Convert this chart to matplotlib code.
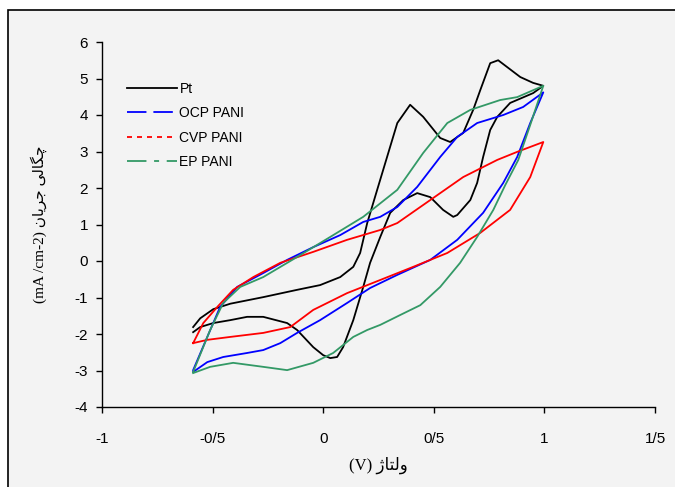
import matplotlib.pyplot as plt
from matplotlib.lines import Line2D
from matplotlib.patches import Rectangle

plt.rcParams['axes.unicode_minus'] = False
plt.rcParams['lines.scale_dashes'] = False

# cyclic voltammograms (V, mA/cm2)
pt_x = [-0.588, -0.556, -0.497, -0.42, -0.271, -0.118, -0.014, 0.077, 0.136, 0.167,
        0.199, 0.244, 0.335, 0.393, 0.452, 0.529, 0.574, 0.633, 0.678, 0.71,
        0.755, 0.791, 0.891, 0.949, 0.995,
        0.949, 0.845, 0.787, 0.755, 0.723, 0.696, 0.665, 0.606, 0.588, 0.542,
        0.484, 0.425, 0.362, 0.303, 0.258, 0.212, 0.181, 0.136, 0.09, 0.063,
        0.032, 0.0, -0.045, -0.118, -0.163, -0.271, -0.344, -0.42, -0.497, -0.556, -0.588]
pt_y = [-1.81, -1.57, -1.32, -1.17, -0.99, -0.79, -0.66, -0.44, -0.16, 0.22,
        1.04, 1.95, 3.78, 4.28, 3.95, 3.37, 3.26, 3.51, 4.14, 4.68,
        5.42, 5.50, 5.04, 4.88, 4.8,
        4.6, 4.33, 3.95, 3.59, 2.85, 2.14, 1.67, 1.26, 1.21, 1.4,
        1.75, 1.86, 1.67, 1.32, 0.66, -0.05, -0.71, -1.62, -2.36, -2.63,
        -2.66, -2.58, -2.36, -1.89, -1.7, -1.53, -1.53, -1.62, -1.7, -1.81, -1.95]

ocp_x = [-0.588, -0.524, -0.466, -0.389, -0.271, -0.163, -0.045, 0.077, 0.181, 0.258,
         0.335, 0.425, 0.529, 0.606, 0.696, 0.814, 0.904, 0.995,
         0.936, 0.877, 0.814, 0.723, 0.606, 0.484, 0.335, 0.212, 0.108, -0.014,
         -0.118, -0.194, -0.271, -0.344, -0.452, -0.524, -0.588]
ocp_y = [-2.99, -2.08, -1.26, -0.71, -0.33, 0.03, 0.38, 0.71, 1.07, 1.21,
         1.48, 2.03, 2.85, 3.4, 3.78, 4.0, 4.22, 4.62,
         3.78, 2.85, 2.14, 1.32, 0.58, 0.03, -0.38, -0.74, -1.15, -1.62,
         -1.97, -2.25, -2.44, -2.52, -2.63, -2.77, -3.04]

cvp_x = [-0.588, -0.542, -0.479, -0.407, -0.316, -0.194, -0.045, 0.108, 0.258, 0.335,
         0.484, 0.633, 0.787, 0.877, 0.995,
         0.936, 0.845, 0.71, 0.561, 0.407, 0.258, 0.108, -0.045, -0.149, -0.271,
         -0.42, -0.524, -0.588]
cvp_y = [-2.25, -1.7, -1.26, -0.79, -0.44, -0.05, 0.25, 0.58, 0.85, 1.04,
         1.67, 2.3, 2.77, 2.99, 3.26,
         2.3, 1.4, 0.77, 0.22, -0.16, -0.52, -0.88, -1.34, -1.81, -1.97,
         -2.08, -2.16, -2.25]

ep_x = [-0.588, -0.511, -0.452, -0.375, -0.271, -0.118, 0.032, 0.181, 0.335, 0.452,
        0.561, 0.665, 0.8, 0.877, 0.995,
        0.936, 0.882, 0.823, 0.769, 0.696, 0.619, 0.529, 0.439, 0.348, 0.258,
        0.199, 0.136, 0.045, -0.045, -0.163, -0.271, -0.407, -0.511, -0.588]
ep_y = [-3.04, -1.89, -1.15, -0.71, -0.44, 0.11, 0.66, 1.21, 1.95, 2.96,
        3.78, 4.14, 4.41, 4.49, 4.8,
        3.73, 2.77, 2.08, 1.4, 0.66, -0.05, -0.71, -1.21, -1.48, -1.75,
        -1.89, -2.08, -2.52, -2.79, -2.99, -2.9, -2.79, -2.9, -3.07]

names = ['Pt', 'OCP PANI', 'CVP PANI', 'EP PANI']
colors = ['black', '#0000ff', '#ff0000', '#339966']
dashes = [None, (14, 5), (3.6, 3.6), (14, 5.5, 3.6, 5.5)]

xticks = [-1, -0.5, 0, 0.5, 1, 1.5]
xticklabels = ['-1', '-0/5', '0', '0/5', '1', '1/5']
yticks = list(range(-4, 7))

# persian labels given as shaped glyphs in visual order
ylabel = '(mA /cm-2) \ufee5\ufe8e\ufbfe\ufeae\ufe9f \ufbfd\ufedf\ufe8e\ufb95\ufb7c'
xlabel = '(V) \ufb8a\ufe8e\ufe98\ufedf\ufeed'

fig = plt.figure(figsize=(6.75, 4.87), dpi=100, facecolor='white')
fig.patches.append(Rectangle((8 / 675, -0.1), 1.2, 1.1 - 10 / 487, transform=fig.transFigure,
                             facecolor='#f3f3f3', edgecolor='black', linewidth=1.2, zorder=-1))
ax = fig.add_axes([102 / 675, 80 / 487, 553 / 675, 365 / 487])
ax.set_facecolor('none')

for (x, y), c in zip([(pt_x, pt_y), (ocp_x, ocp_y), (cvp_x, cvp_y), (ep_x, ep_y)], colors):
    ax.plot(x, y, color=c, linewidth=1.3)

ax.set_xlim(-1, 1.5)
ax.set_ylim(-4, 6)
ax.set_xticks(xticks)
ax.set_xticklabels(xticklabels)
ax.set_yticks(yticks)
for s in ['top', 'right']:
    ax.spines[s].set_visible(False)
for s in ['left', 'bottom']:
    ax.spines[s].set_linewidth(1.0)
ax.tick_params(direction='out', length=4, width=1, labelsize=11)
ax.tick_params(axis='x', pad=14)
ax.tick_params(axis='y', pad=6)
for lab in ax.get_xticklabels() + ax.get_yticklabels():
    lab.set_family('Liberation Sans')

ax.set_ylabel(ylabel, family=['Liberation Serif', 'DejaVu Sans'], fontsize=11, labelpad=20)
ax.set_xlabel(xlabel, family=['Liberation Serif', 'DejaVu Sans'], fontsize=12, labelpad=8)

handles = []
for c, d in zip(colors, dashes):
    h = Line2D([], [], color=c, linewidth=1.3)
    if d is not None:
        h.set_dashes(d)
    handles.append(h)
ax.legend(handles, names, loc='upper left', bbox_to_anchor=(0.022, 0.925), frameon=False,
          prop={'family': 'Liberation Sans', 'size': 10}, handlelength=3.6,
          handletextpad=0.2, labelspacing=0.75)

fig.savefig('out.png', dpi=100, facecolor='white')
